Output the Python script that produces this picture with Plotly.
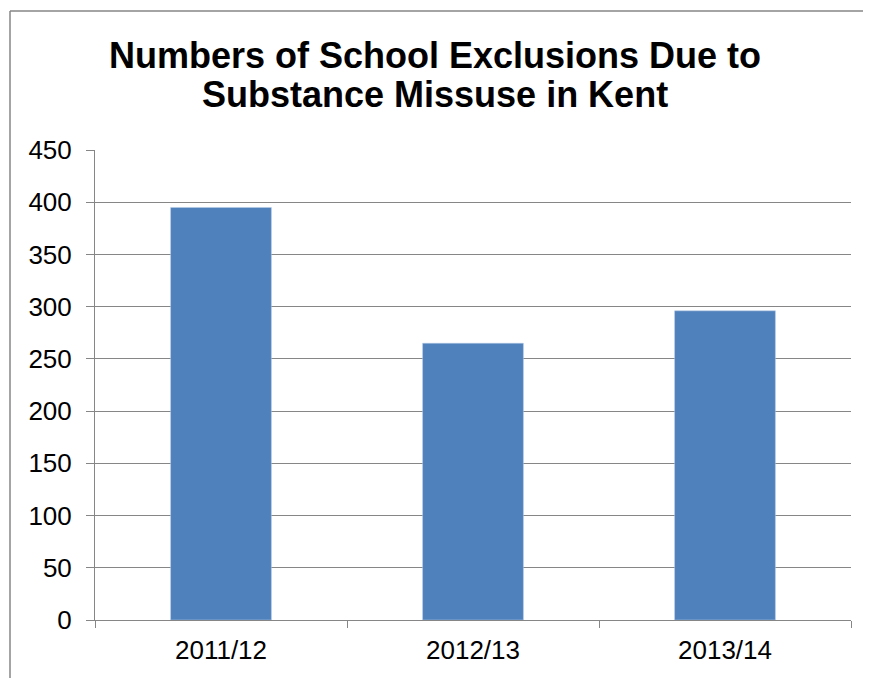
import plotly.graph_objects as go

years = ["2011/12", "2012/13", "2013/14"]
exclusions = [395, 265, 296]
y_ticks = [0, 50, 100, 150, 200, 250, 300, 350, 400, 450]
title_lines = ["Numbers of School Exclusions Due to", "Substance Missuse in Kent"]

# page body has an 8px margin; target plot area in page px: x 95..851, y 150..620
OFF = 8
PX0, PX1, PY0, PY1 = 95, 851, 150, 620
W, H = 871 - OFF, 678 - OFF
L, T = PX0 - OFF, PY0 - OFF
R = W - (PX1 - OFF)
B = H - (PY1 - OFF)
pw, ph = PX1 - PX0, PY1 - PY0


def px_x(x):
    return (x - PX0) / pw


def px_y(y):
    return (PY1 - y) / ph


fig = go.Figure(go.Bar(
    x=years, y=exclusions,
    marker=dict(color="#4F81BD", line=dict(color="#B9CDE5", width=0.5)),
    width=0.4,
))

annotations = []
for line, yc in zip(title_lines, [55, 94]):
    annotations.append(dict(
        text="<b>" + line + "</b>", showarrow=False,
        xref="paper", yref="paper", x=px_x(434.5), y=px_y(yc),
        xanchor="center", yanchor="middle",
        font=dict(size=36, color="black"),
    ))

frame = dict(color="#868686", width=1.5)
fig.update_layout(
    width=W, height=H,
    margin=dict(l=L, r=R, t=T, b=B),
    paper_bgcolor="white", plot_bgcolor="white",
    font=dict(family="Liberation Sans, Arial, sans-serif", color="black"),
    showlegend=False,
    annotations=annotations,
    xaxis=dict(
        type="category", automargin=False,
        showline=True, linecolor="#868686", linewidth=1,
        ticks="outside", ticklen=7, tickcolor="#868686", tickson="boundaries",
        showgrid=False, ticklabelstandoff=7,
        tickfont=dict(size=26, color="black"),
    ),
    yaxis=dict(
        range=[0, 450], tickvals=y_ticks, automargin=False,
        showline=True, linecolor="#868686", linewidth=1,
        ticks="outside", ticklen=8, tickcolor="#868686",
        showgrid=True, gridcolor="#868686", gridwidth=1,
        zeroline=False, ticklabelstandoff=9,
        tickfont=dict(size=26, color="black"),
    ),
    shapes=[
        dict(type="line", xref="paper", yref="paper",
             x0=px_x(10), x1=px_x(880), y0=px_y(11), y1=px_y(11),
             line=frame, layer="below"),
        dict(type="line", xref="paper", yref="paper",
             x0=px_x(10), x1=px_x(10), y0=px_y(11), y1=px_y(690),
             line=frame, layer="below"),
    ],
)

fig.write_html("out.html")
